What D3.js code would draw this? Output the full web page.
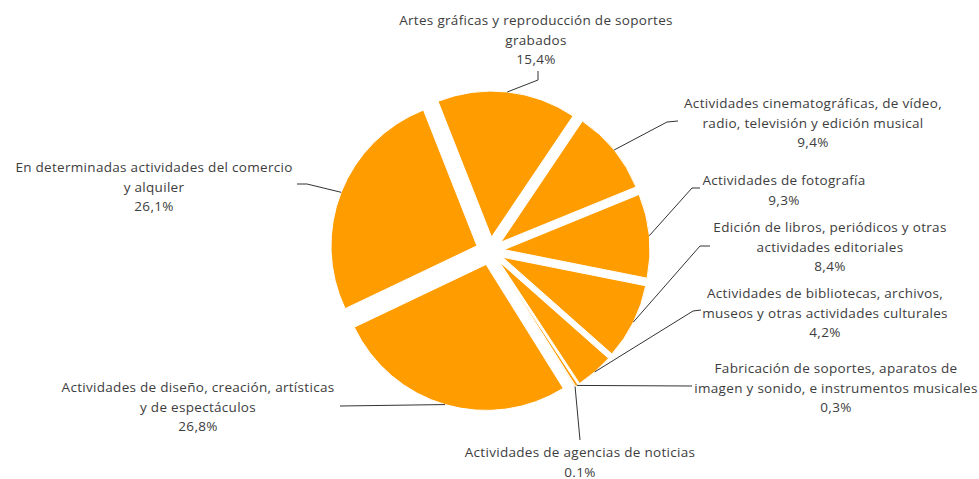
<!DOCTYPE html>
<html>
<head>
<meta charset="utf-8">
<script src="https://cdn.jsdelivr.net/npm/d3@7"></script>
<style>
  html, body { margin: 0; padding: 0; background: #fff; }
  svg { display: block; }
  text { font-family: "Open Sans", Lato, sans-serif; font-size: 13.5px; letter-spacing: 0.3px; fill: #3d3d3d; }
</style>
</head>
<body>
<svg id="chart" width="979" height="479"></svg>
<script>
// ---- data ----
const categories = [
  ["Artes gráficas y reproducción de soportes", "grabados"],
  ["Actividades cinematográficas, de vídeo,", "radio, televisión y edición musical"],
  ["Actividades de fotografía"],
  ["Edición de libros, periódicos y otras", "actividades editoriales"],
  ["Actividades de bibliotecas, archivos,", "museos y otras actividades culturales"],
  ["Fabricación de soportes, aparatos de", "imagen y sonido, e instrumentos musicales"],
  ["Actividades de agencias de noticias"],
  ["Actividades de diseño, creación, artísticas", "y de espectáculos"],
  ["En determinadas actividades del comercio", "y alquiler"]
];
const values = [15.4, 9.4, 9.3, 8.4, 4.2, 0.3, 0.1, 26.8, 26.1];
const valueLabels = ["15,4%", "9,4%", "9,3%", "8,4%", "4,2%", "0,3%", "0.1%", "26,8%", "26,1%"];

// ---- layout (label placement) ----
const labelCenterX = [536, 813, 784, 830, 825, 836, 580, 198, 154];
const labelFirstBaseline = [25, 108, 185, 232, 298, 373, 457, 392, 172];
const connectorPoints = [
  [[538, 80], [538, 71]],
  [[667, 122], [678, 121]],
  [[692, 188], [700, 188]],
  [[700, 246], [710, 246]],
  [[693, 311], [701, 310]],
  [[692, 386]],
  [[580, 440]],
  [[340, 406]],
  [[307, 184], [297, 184]]
];

const cx = 490, cy = 251;
const radius = 146, sliceOffset = 14, lineHeight = 19.5;
const color = "#FF9D00";
const startAngle = -21.5 * Math.PI / 180;

const svg = d3.select("#chart");
const g = svg.append("g").attr("transform", `translate(${cx},${cy})`);

const pie = d3.pie().sort(null).value(d => d)
  .startAngle(startAngle).endAngle(startAngle + 2 * Math.PI);
const arcs = pie(values);
const arc = d3.arc().innerRadius(0).outerRadius(radius);

g.selectAll("path.slice").data(arcs).enter().append("path")
  .attr("class", "slice")
  .attr("d", arc)
  .attr("fill", color)
  .attr("stroke", "#fff")
  .attr("stroke-width", 1)
  .attr("stroke-linejoin", "round")
  .attr("transform", d => {
    const a = (d.startAngle + d.endAngle) / 2;
    return `translate(${sliceOffset * Math.sin(a)},${-sliceOffset * Math.cos(a)})`;
  });

// connectors
const line = d3.line();
arcs.forEach((d, i) => {
  const a = (d.startAngle + d.endAngle) / 2;
  const r = radius + sliceOffset;
  const start = [cx + r * Math.sin(a), cy - r * Math.cos(a)];
  const pts = [start].concat(connectorPoints[i]);
  svg.append("path")
    .attr("d", line(pts))
    .attr("fill", "none")
    .attr("stroke", "#333")
    .attr("stroke-width", 1);
});

// labels
categories.forEach((lines, i) => {
  const t = svg.append("text").attr("text-anchor", "middle");
  lines.concat([valueLabels[i]]).forEach((s, j) => {
    t.append("tspan")
      .attr("x", labelCenterX[i])
      .attr("y", labelFirstBaseline[i] + j * lineHeight)
      .text(s);
  });
});
</script>
</body>
</html>
